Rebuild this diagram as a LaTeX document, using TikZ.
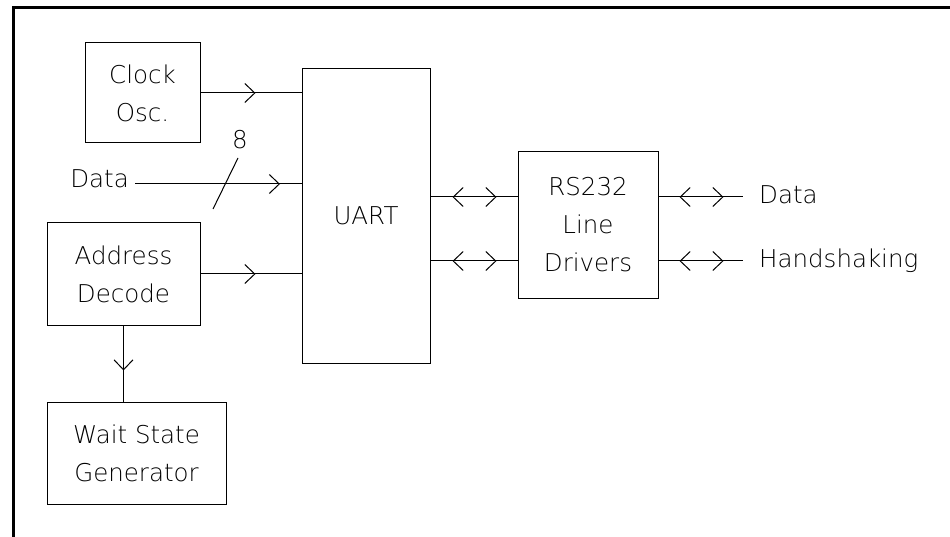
\documentclass[tikz,border=0pt]{standalone}
\usepackage{fontspec}
\setmainfont{DejaVu Sans ExtraLight}
\usetikzlibrary{arrows.meta,decorations.markings}
\tikzset{
  fs/.style={font=\fontsize{24.5}{38}\selectfont},
  box/.style={draw, line width=1pt, inner sep=0pt, align=center, fs},
  lbl/.style={inner sep=0pt, fs},
  conn/.style={line width=1pt},
  barb/.tip={Straight Barb[length=10pt,width=19pt,line width=1pt]},
  fwdat/.style={postaction={decorate}, decoration={markings,
      mark=at position #1 with {\arrow{barb}}}},
  bothat/.style 2 args={postaction={decorate}, decoration={markings,
      mark=at position #1 with {\arrowreversed{barb}},
      mark=at position #2 with {\arrow{barb}}}}
}
\begin{document}
\begin{tikzpicture}[x=1pt,y=-1pt]
\useasboundingbox (0,0) rectangle (950,537);
% frame
\draw[line width=3pt] (13.5,537) -- (13.5,7.5) -- (950,7.5);
% blocks
\node[box, minimum width=115pt, minimum height=100pt] (clock) at (142.5,93) {Clock\\Osc.};
\node[box, minimum width=128pt, minimum height=294pt] (uart) at (366,216) {UART};
\node[box, minimum width=153pt, minimum height=102pt] (addr) at (123.5,274) {Address\\Decode};
\node[box, minimum width=179pt, minimum height=102pt] (wait) at (136.5,453) {Wait State\\Generator};
\node[box, minimum width=140pt, minimum height=146pt] (rs) at (588,225) {RS232\\Line\\Drivers};
% labels
\node[lbl, anchor=base east] (din) at (129,188) {Data};
\coordinate (d0) at (135,184);
\node[lbl, anchor=base] (eight) at (240,149) {8};
\coordinate (r1) at (600,197);
\coordinate (r2) at (600,261);
\coordinate (e1) at (743,197);
\coordinate (e2) at (743,261);
\node[lbl, anchor=base west] (dout) at (759,204) {Data};
\node[lbl, anchor=base west] (hs) at (759,268) {Handshaking};
% connectors
\draw[conn, fwdat=55pt] (clock.east) -- (clock.east -| uart.west);
\draw[conn, fwdat=145pt] (d0) -- (d0 -| uart.west);
\draw[conn] (213,209) -- (238,158);
\draw[conn, fwdat=55pt] (addr.east) -- (addr.east -| uart.west);
\draw[conn, fwdat=45pt] (addr.south) -- (addr.south |- wait.north);
\draw[conn, bothat={22pt}{66pt}] (uart.east |- r1) -- (rs.west |- r1);
\draw[conn, bothat={22pt}{66pt}] (uart.east |- r2) -- (rs.west |- r2);
\draw[conn, bothat={21pt}{65pt}] (rs.east |- e1) -- (e1);
\draw[conn, bothat={21pt}{65pt}] (rs.east |- e2) -- (e2);
\end{tikzpicture}
\end{document}
